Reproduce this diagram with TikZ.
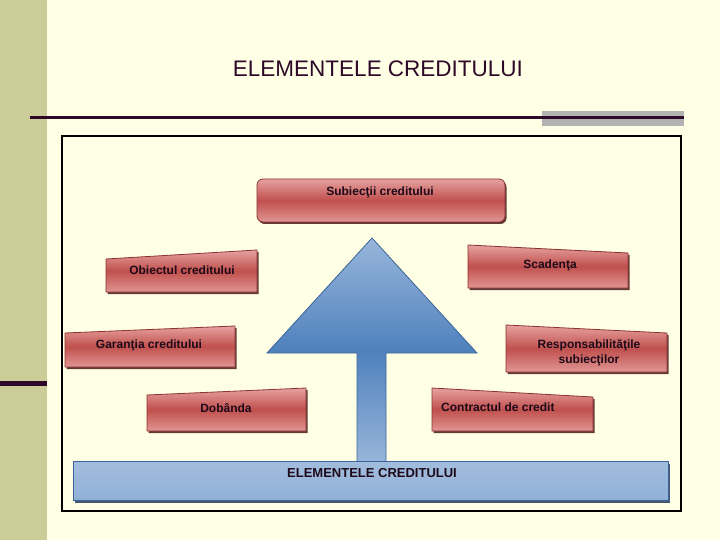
\documentclass[tikz,border=0pt]{standalone}
\usepackage{fontspec}
\setmainfont{Liberation Sans}
\usepackage{tikz}
\usetikzlibrary{shadows, positioning}
\definecolor{slidebg}{RGB}{255,255,229}
\definecolor{stripolive}{RGB}{204,204,153}
\definecolor{rulepurple}{RGB}{45,8,40}
\definecolor{rulegrey}{RGB}{178,178,178}
\definecolor{redmid}{RGB}{192,80,77}
\definecolor{redlt}{RGB}{230,162,160}
\definecolor{redborder}{RGB}{140,50,48}
\definecolor{bluemid}{RGB}{79,129,189}
\definecolor{bluelt}{RGB}{152,182,218}
\definecolor{blueborder}{RGB}{60,100,155}
\definecolor{inkdark}{RGB}{30,10,25}
\tikzset{
  redbox/.style={draw=redborder, line width=0.8pt, top color=redlt,
    bottom color=redlt!85!redmid, middle color=redmid,
    drop shadow={shadow xshift=1.5pt, shadow yshift=-2pt,
      fill=redborder!50!black, opacity=0.85}},
  bluearrow/.style={draw=blueborder, line width=0.8pt, top color=bluelt,
    bottom color=bluelt, middle color=bluemid},
  bluebox/.style={draw=blueborder, line width=0.8pt, top color=bluelt!90!white,
    bottom color=bluelt!90!bluemid,
    drop shadow={shadow xshift=1.5pt, shadow yshift=-2.5pt,
      fill=blueborder!60!black, opacity=0.85}},
  lbl/.style={font=\fontsize{12}{15}\selectfont\bfseries, text=inkdark,
    align=center, inner sep=1pt},
  heading/.style={font=\fontsize{22.5}{26}\selectfont, text=rulepurple, inner sep=0pt},
}
\begin{document}
\begin{tikzpicture}[x=1pt, y=-1pt]
\useasboundingbox (0,0) rectangle (720,540);

% slide background
\fill[slidebg] (0,0) rectangle (720,540);
\fill[stripolive] (0,0) rectangle (47,540);
\fill[rulepurple] (0,381) rectangle (47,386);
\fill[rulegrey] (542,111) rectangle (684,126);
\fill[rulepurple] (30,116) rectangle (684,119);

\node[heading] (title) at (378,69) {ELEMENTELE CREDITULUI};

\draw[line width=2.5pt, black] (62,136) rectangle (681,511);

% big arrow
\draw[bluearrow] (357,463) -- (357,353) -- (267,353) -- (372,238)
  -- (477,353) -- (386,353) -- (386,463) -- cycle;

\draw[bluebox] (73,461) rectangle (668,500);
\node[lbl, font=\fontsize{13}{15}\selectfont\bfseries] (base) at (372,473) {ELEMENTELE CREDITULUI};

% element boxes
\draw[redbox, rounded corners=6pt] (257,179) rectangle (505,222);
\node[lbl] (subiecti) at (380,192) {Subiecţii creditului};

\draw[redbox] (106,259) -- (257,250) -- (257,292) -- (106,292) -- cycle;
\node[lbl] (obiect) at (182,270) {Obiectul creditului};

\draw[redbox] (468,245) -- (628,253) -- (628,288) -- (468,288) -- cycle;
\node[lbl] (scadenta) at (550,265) {Scadenţa};

\draw[redbox] (65,333) -- (235,326) -- (235,367) -- (65,367) -- cycle;
\node[lbl] (garantie) at (149,345) {Garanţia creditului};

\draw[redbox] (506,325) -- (667,333) -- (667,372) -- (506,372) -- cycle;
\node[lbl] (respons) at (589,353) {Responsabilităţile\\subiecţilor};

\draw[redbox] (147,395) -- (306,388) -- (306,431) -- (147,431) -- cycle;
\node[lbl] (dobanda) at (226,408) {Dobânda};

\draw[redbox] (432,388) -- (593,397) -- (593,431) -- (432,431) -- cycle;
\node[lbl, anchor=west] (contract) at (440,407) {Contractul de credit};

\end{tikzpicture}
\end{document}
